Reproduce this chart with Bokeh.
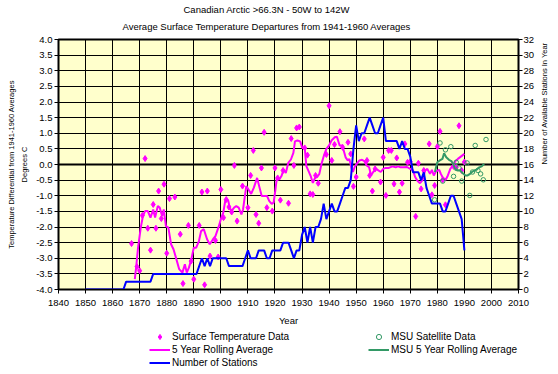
import math
from bokeh.plotting import figure
from bokeh.layouts import column
from bokeh.models import (Range1d, LinearAxis, FixedTicker, NumeralTickFormatter,
                          Span, Legend, LegendItem, Title)
from bokeh.embed import file_html
from bokeh.resources import INLINE

FONT = "Liberation Sans"

title1 = "Canadian Arctic >66.3N - 50W to 142W"
title2 = "Average Surface Temperature Departures from 1941-1960 Averages"
y_label = "Temperature Differential from 1941-1960 Averages\nDegrees C"
y2_label = "Number of Available Stations In Year"
x_label = "Year"

x_ticks = [1840, 1850, 1860, 1870, 1880, 1890, 1900, 1910, 1920, 1930,
           1940, 1950, 1960, 1970, 1980, 1990, 2000, 2010]
y_ticks = [-4.0, -3.5, -3.0, -2.5, -2.0, -1.5, -1.0, -0.5, 0.0,
           0.5, 1.0, 1.5, 2.0, 2.5, 3.0, 3.5, 4.0]
st_ticks = [0, 2, 4, 6, 8, 10, 12, 14, 16, 18, 20, 22, 24, 26, 28, 30, 32]

# Surface temperature data (annual departures, deg C)
sfc_years = [1867, 1869, 1870, 1871, 1872, 1873, 1874, 1875, 1876, 1877,
             1878, 1879, 1880, 1881, 1883, 1885, 1886, 1888, 1889, 1890,
             1892, 1893, 1894, 1895, 1896, 1898, 1899, 1900, 1901, 1902,
             1903, 1904, 1905, 1906, 1908, 1910, 1911, 1912, 1913, 1914,
             1915, 1916, 1917, 1919, 1920, 1921, 1922, 1923, 1925, 1926,
             1927, 1928, 1929, 1931, 1932, 1933, 1934, 1935, 1936, 1939,
             1940, 1941, 1942, 1944, 1945, 1947, 1948, 1949, 1950, 1953,
             1954, 1955, 1956, 1957, 1959, 1960, 1961, 1962, 1963, 1964,
             1965, 1966, 1967, 1968, 1969, 1970, 1972, 1973, 1974, 1975,
             1977, 1978, 1979, 1980, 1981, 1982, 1983, 1986, 1987, 1988,
             1989, 1990]
sfc_temp = [-2.53, -3.27, -3.40, -1.63, 0.19, -2.04, -2.74, -1.28, -2.04, -0.85,
            -1.73, -0.63, -2.84, -1.09, -1.04, -2.23, -3.81, -1.95, -3.09, -3.67,
            -1.95, -0.88, -3.85, -0.85, -2.93, -2.43, -2.96, -0.80, -1.70, -1.12,
            -1.36, -1.52, -0.03, -1.81, -0.69, -1.38, -0.35, 0.45, -1.60, -1.88,
            -0.11, 1.03, -1.38, -1.49, -0.11, -0.43, -1.14, -0.19, -1.24, 0.83,
            -0.03, 1.17, 1.20, 0.53, 0.30, -0.94, -0.96, -0.35, -0.60, 0.32,
            1.88, 0.13, 0.64, 1.05, 0.55, 0.71, 0.34, -0.70, -0.40, 0.82,
            0.13, -0.35, -0.85, -0.14, -0.56, 0.23, -0.99, 0.45, 0.45, -0.62,
            0.21, -0.88, -0.60, 0.66, 0.07, 0.09, -1.66, 0.04, -0.78, -0.19,
            0.66, -0.97, -0.67, 0.57, 1.06, -0.49, -1.29, -0.06, -0.09, 1.24,
            -0.19, 0.08]

# 5 year rolling average of surface data
roll_years = [1868.2, 1868.8, 1869.4, 1870.4, 1871.2, 1872.0, 1873.0, 1874.0, 1875.0, 1875.7,
              1876.7, 1877.4, 1878.3, 1878.9, 1879.7, 1880.6, 1881.6, 1882.5, 1883.4, 1884.6,
              1885.8, 1886.7, 1887.4, 1888.2, 1889.1, 1890.0, 1890.9, 1891.9, 1892.7, 1893.7,
              1894.9, 1895.9, 1897.1, 1898.0, 1899.2, 1900.0, 1900.9, 1901.7, 1902.7, 1903.3,
              1903.9, 1904.9, 1905.7, 1906.6, 1907.6, 1908.2, 1908.8, 1909.4, 1910.2, 1911.2,
              1912.2, 1913.4, 1914.3, 1915.1, 1916.1, 1917.1, 1917.9, 1918.8, 1919.5, 1920.1,
              1920.7, 1921.6, 1922.4, 1923.2, 1924.0, 1924.9, 1925.9, 1926.8, 1927.4, 1928.3,
              1929.3, 1930.1, 1931.0, 1931.6, 1932.3, 1933.2, 1934.0, 1934.8, 1935.6, 1936.4,
              1937.2, 1938.1, 1939.0, 1940.0, 1940.9, 1942.1, 1942.9, 1943.9, 1944.9, 1945.4,
              1946.1, 1946.9, 1947.5, 1948.2, 1948.8, 1949.4, 1950.2, 1951.2, 1952.2, 1953.0,
              1953.9, 1954.8, 1955.5, 1956.3, 1957.3, 1958.2, 1959.1, 1960.0, 1960.9, 1962.1,
              1963.4, 1964.6, 1965.5, 1966.4, 1967.6, 1968.8, 1970.0, 1971.0, 1971.8, 1972.7,
              1973.6, 1974.6, 1975.5, 1976.3, 1977.3, 1978.0, 1978.7, 1979.5, 1980.7, 1981.3,
              1982.1, 1983.1, 1983.9, 1984.8, 1985.8, 1986.7, 1987.6, 1988.8, 1990.0]
roll_temp = [-3.67, -3.20, -2.66, -2.02, -1.65, -1.49, -1.49, -1.70, -1.44, -1.70,
             -1.33, -1.38, -1.65, -1.44, -1.97, -2.02, -2.55, -2.71, -2.98, -3.35,
             -3.46, -3.19, -3.46, -3.30, -3.03, -2.66, -2.66, -2.45, -2.13, -2.07,
             -2.39, -2.55, -2.39, -2.29, -1.99, -1.75, -1.54, -1.12, -1.15, -1.38,
             -1.49, -1.38, -1.33, -1.38, -1.60, -1.44, -1.06, -0.69, -0.80, -0.94,
             -0.74, -0.43, -0.74, -1.01, -1.01, -1.01, -1.17, -1.26, -1.22, -0.85,
             -0.43, -0.48, -0.37, -0.16, -0.27, 0.05, 0.16, 0.37, 0.74, 0.77,
             0.74, 0.53, 0.53, -0.05, -0.19, -0.37, -0.59, -0.43, -0.40, -0.30,
             0.02, 0.29, 0.50, 0.61, 0.77, 0.87, 0.89, 0.61, 0.61, 0.45,
             0.23, 0.13, 0.18, -0.09, -0.24, -0.09, 0.02, 0.13, 0.15, 0.11,
             -0.03, -0.09, -0.35, -0.24, -0.14, -0.19, -0.24, -0.14, -0.11, -0.11,
             -0.06, -0.09, -0.06, -0.09, -0.09, -0.08, -0.14, -0.19, -0.40, -0.53,
             -0.60, -0.49, -0.19, -0.14, -0.30, -0.17, -0.35, -0.22, -0.17, -0.30,
             -0.43, -0.49, -0.35, -0.14, -0.03, 0.11, 0.18, 0.26, 0.34]

# MSU satellite data
msu_years = [1979, 1981, 1982, 1983, 1985, 1986, 1987, 1988, 1989, 1991,
             1992, 1993, 1994, 1995, 1996, 1997, 1998]
msu_temp = [-1.13, 0.69, -0.53, 0.47, 0.57, -0.38, 0.07, -0.11, -0.53, 0.05,
            -0.99, -0.24, 0.61, -0.19, -0.30, -0.49, 0.80]

# MSU 5 year rolling average
msur_years = [1979.1, 1980.0, 1980.9, 1981.9, 1982.5, 1983.3, 1984.3, 1985.2, 1985.8, 1986.7,
              1987.6, 1988.4, 1989.4, 1990.4, 1991.2, 1992.1, 1992.8, 1993.6, 1994.5, 1995.5,
              1996.4, 1997.3]
msur_temp = [-0.24, 0.07, 0.13, 0.18, 0.36, 0.23, 0.15, 0.11, 0.02, -0.17,
             -0.19, -0.19, -0.28, -0.35, -0.35, -0.30, -0.24, -0.19, -0.17, -0.09,
             -0.06, 0.02]

# Number of stations (right axis)
st_years = [1850, 1851, 1852, 1853, 1854, 1855, 1856, 1857, 1858, 1859,
            1860, 1861, 1862, 1863, 1864, 1865, 1866, 1867, 1868, 1869,
            1870, 1871, 1872, 1873, 1874, 1875, 1876, 1877, 1878, 1879,
            1880, 1881, 1882, 1883, 1884, 1885, 1886, 1887, 1888, 1889,
            1890, 1891, 1892, 1893, 1894, 1895, 1896, 1897, 1898, 1899,
            1900, 1901, 1902, 1903, 1904, 1905, 1906, 1907, 1908, 1909,
            1910, 1911, 1912, 1913, 1914, 1915, 1916, 1917, 1918, 1919,
            1920, 1921, 1922, 1923, 1924, 1925, 1926, 1927, 1928, 1929,
            1930, 1931, 1932, 1933, 1934, 1935, 1936, 1937, 1938, 1939,
            1940, 1941, 1942, 1943, 1944, 1945, 1946, 1947, 1948, 1949,
            1950, 1951, 1952, 1953, 1954, 1955, 1956, 1957, 1958, 1959,
            1960, 1961, 1962, 1963, 1964, 1965, 1966, 1967, 1968, 1969,
            1970, 1971, 1972, 1973, 1974, 1975, 1976, 1977, 1978, 1979,
            1980, 1981, 1982, 1983, 1984, 1985, 1986, 1987, 1988, 1989,
            1990]
st_count = [0, 0, 0, 0, 0, 0, 0, 0, 0, 0,
            0, 0, 0, 0, 0, 1, 1, 1, 1, 1,
            1, 1, 1, 1, 1, 2, 2, 2, 2, 2,
            2, 2, 2, 2, 2, 2, 2, 2, 2, 2,
            2, 2, 3, 4, 3, 4, 3, 4, 4, 4,
            4, 4, 4, 3, 3, 3, 3, 3, 3, 4,
            5, 4, 4, 4, 5, 5, 5, 4, 4, 5,
            5, 5, 5, 6, 6, 6, 5, 4, 5, 5,
            7, 8, 6, 8, 6, 8, 8, 9, 11, 9,
            10, 11, 10, 10, 11, 12, 13, 13, 14, 18,
            21, 19, 20, 20, 21, 22, 21, 20, 20, 21,
            22, 19, 19, 19, 19, 19, 18, 19, 18, 18,
            17, 15, 15, 15, 14, 15, 13, 12, 11, 11,
            11, 11, 10, 10, 11, 12, 12, 11, 10, 9,
            5]

PINK = "#FF00FF"
SEA = "#339966"
BLUE = "#0000FF"

p = figure(width=556, height=328, output_backend="svg", toolbar_location=None,
           x_range=Range1d(1840, 2010), y_range=Range1d(-4, 4),
           min_border_left=58, min_border_right=33, min_border_top=39,
           min_border_bottom=39, background_fill_color="#FFFFCC",
           border_fill_color="white")
p.extra_y_ranges = {"st": Range1d(0, 32)}
p.outline_line_color = "black"
p.outline_line_width = 2

right = LinearAxis(y_range_name="st")
p.add_layout(right, "right")
left = p.left[0]
bottom = p.below[0]

bottom.ticker = FixedTicker(ticks=x_ticks)
left.ticker = FixedTicker(ticks=y_ticks)
right.ticker = FixedTicker(ticks=st_ticks)
left.formatter = NumeralTickFormatter(format="0.0")

for ax in [bottom, left, right]:
    ax.axis_line_color = "black"
    ax.axis_line_width = 1
    ax.major_tick_line_color = "black"
    ax.major_tick_out = 4
    ax.major_tick_in = 0
    ax.minor_tick_out = 0
    ax.minor_tick_in = 0
    ax.major_label_text_font = FONT
    ax.major_label_text_font_size = "9.5px"
    ax.major_label_text_color = "black"
    ax.axis_label_text_font = FONT
    ax.axis_label_text_font_style = "normal"
    ax.axis_label_text_color = "black"

bottom.major_label_standoff = 6
bottom.axis_label = x_label
bottom.axis_label_text_font_size = "9.5px"
bottom.axis_label_standoff = 6

left.major_label_standoff = 2
left.axis_label = y_label
left.axis_label_text_font_size = "7.5px"
left.axis_label_text_line_height = 1.5
left.axis_label_standoff = 4

# right axis: label reads bottom-to-top; it is drawn from the middle of the
# axis bounds upward, so the (invisible) axis rule is extended below the frame
# to start the text where the reference starts it.
right.major_label_standoff = 1
right.axis_label = y2_label
right.axis_label_text_font_size = "7.5px"
right.axis_label_standoff = 7
right.axis_label_orientation = math.pi / 2
right.axis_line_color = None
right.bounds = (-17.3, 32)

p.xgrid.ticker = FixedTicker(ticks=x_ticks)
p.ygrid.ticker = FixedTicker(ticks=y_ticks)
p.grid.grid_line_color = "black"
p.grid.grid_line_width = 1
p.grid.grid_line_alpha = 1.0

p.add_layout(Span(location=0, dimension="width", line_color="black",
                  line_width=2, level="underlay"))

p.line(roll_years, roll_temp, line_color=PINK, line_width=2)
p.scatter(sfc_years, sfc_temp, marker="diamond", size=6,
          fill_color=PINK, line_color=PINK)
p.scatter(msu_years, msu_temp, marker="circle", size=4.5,
          fill_color=None, line_color=SEA, line_width=1)
p.line(msur_years, msur_temp, line_color=SEA, line_width=2)
p.line(st_years, st_count, y_range_name="st", line_color=BLUE, line_width=2)

# Titles: p.title is the outer (top) line, the extra Title sits next to the frame
p.title.text = title1
p.title.align = "left"
p.title.offset = 125
p.title.standoff = -9
p.title.text_font = FONT
p.title.text_font_size = "9.5px"
p.title.text_font_style = "normal"
p.title.text_color = "black"
p.title.text_line_height = 1.0
t2 = Title(text=title2, align="left", offset=64, standoff=16, text_font=FONT,
           text_font_size="9.5px", text_font_style="normal", text_color="black",
           text_line_height=1.0)
p.add_layout(t2, "above")

# Legend strip: a second figure whose frame holds the two legend columns.
# Its renderers use the same series, but its ranges keep them out of view.
lf = figure(width=556, height=44, output_backend="svg", toolbar_location=None,
            x_range=Range1d(0, 1), y_range=Range1d(0, 1), min_border=0,
            x_axis_location=None, y_axis_location=None, outline_line_color=None,
            background_fill_color="white", border_fill_color="white")
lf.xgrid.visible = False
lf.ygrid.visible = False
l_sfc = lf.scatter(sfc_years, sfc_temp, marker="diamond", size=6,
                   fill_color=PINK, line_color=PINK)
l_roll = lf.line(roll_years, roll_temp, line_color=PINK, line_width=2)
l_st = lf.line(st_years, st_count, line_color=BLUE, line_width=2)
l_msu = lf.scatter(msu_years, msu_temp, marker="circle", size=4.5,
                   fill_color=None, line_color=SEA, line_width=1)
l_msur = lf.line(msur_years, msur_temp, line_color=SEA, line_width=2)

leg_common = dict(orientation="vertical", padding=0, spacing=0, margin=0,
                  glyph_width=21, glyph_height=13, label_height=13,
                  label_width=160, label_standoff=2, label_text_font=FONT,
                  label_text_font_size="10px", label_text_color="black",
                  border_line_color=None, background_fill_alpha=0)
leg1 = Legend(items=[LegendItem(label="Surface Temperature Data", renderers=[l_sfc]),
                     LegendItem(label="5 Year Rolling Average", renderers=[l_roll]),
                     LegendItem(label="Number of Stations", renderers=[l_st])],
              location=(91, 3), **leg_common)
leg2 = Legend(items=[LegendItem(label="MSU Satellite Data", renderers=[l_msu]),
                     LegendItem(label="MSU 5 Year Rolling Average", renderers=[l_msur])],
              location=(310, 16), **leg_common)
lf.add_layout(leg1)
lf.add_layout(leg2)

layout = column(p, lf, spacing=0)
open("out.html", "w").write(file_html(layout, INLINE))
